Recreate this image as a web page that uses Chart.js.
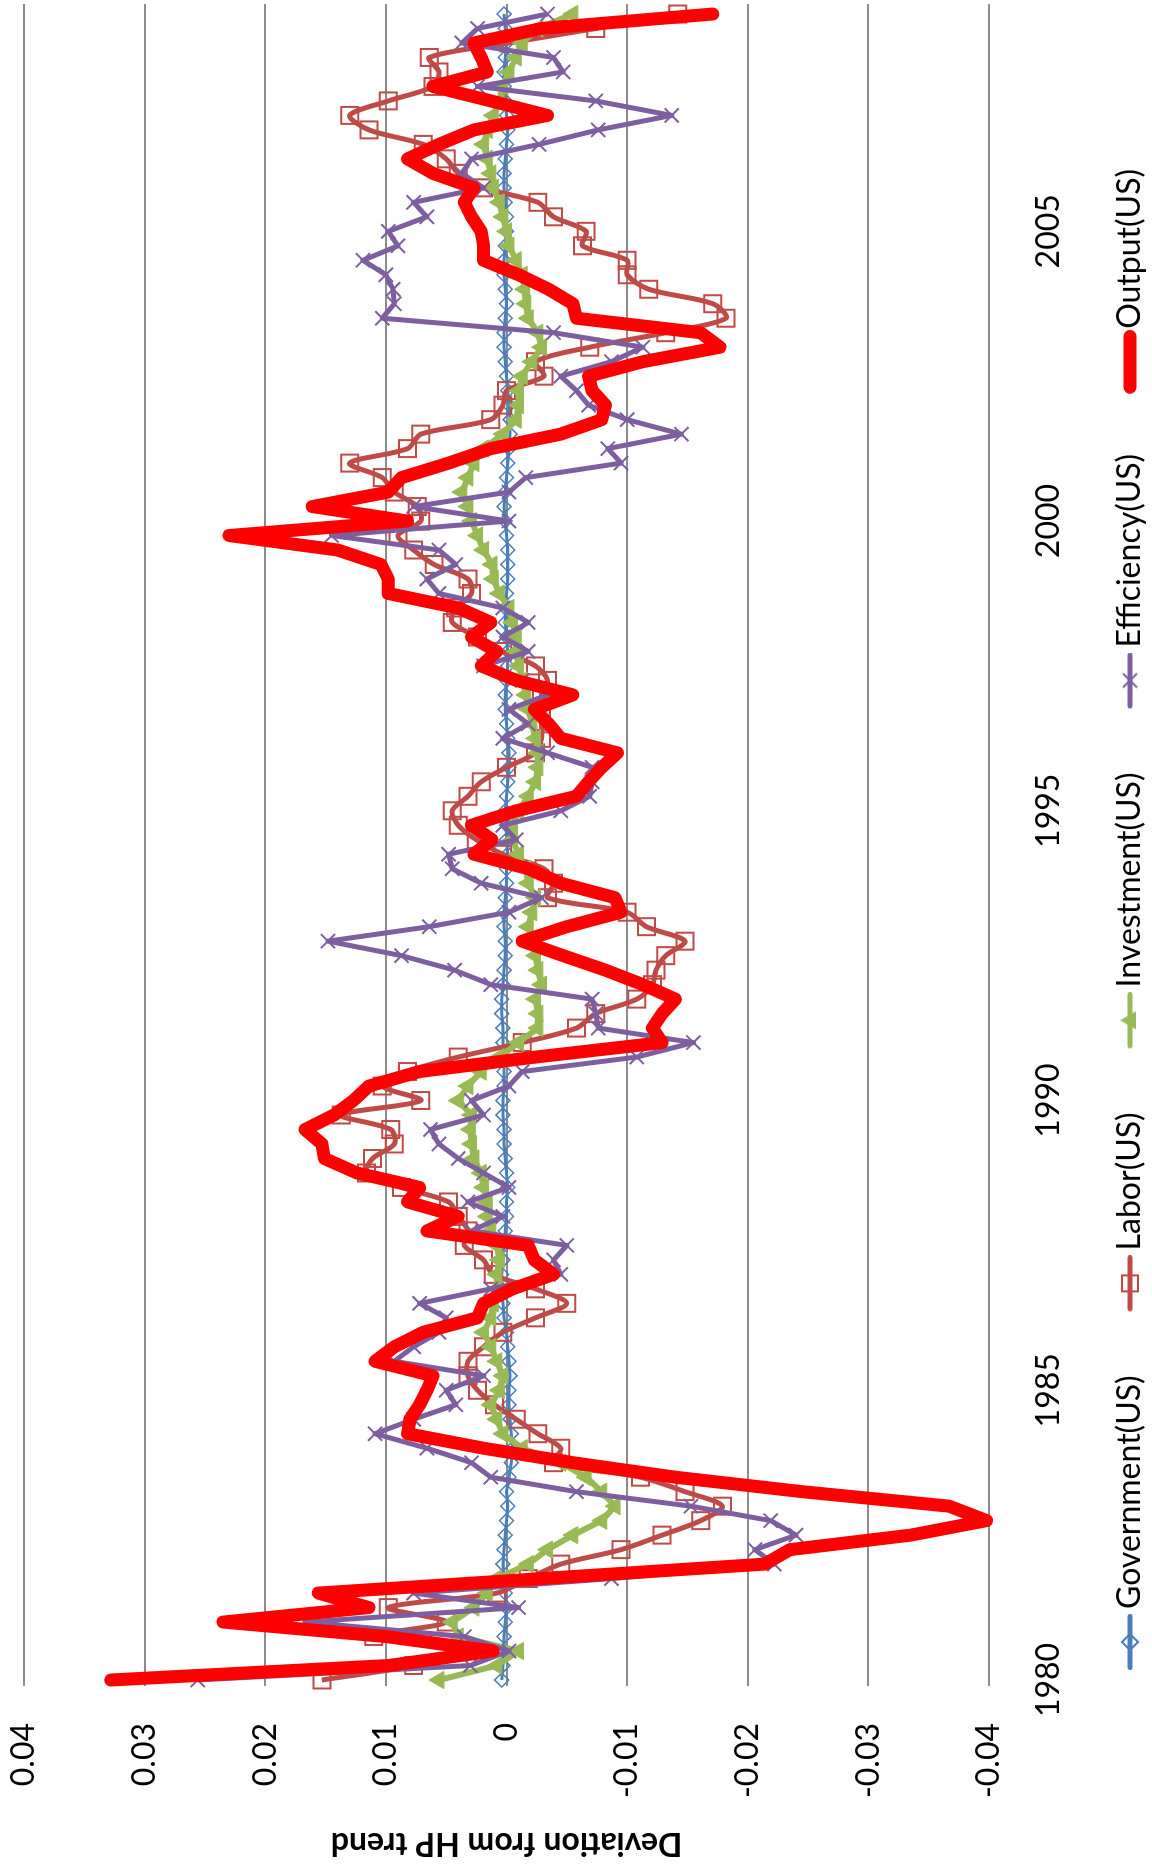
<!DOCTYPE html>
<html>
<head>
<meta charset="utf-8">
<title>Deviation from HP trend</title>
<script src="https://cdn.jsdelivr.net/npm/chart.js@4.4.1/dist/chart.umd.min.js"></script>
<style>
  html, body { margin: 0; padding: 0; width: 1152px; height: 1865px; overflow: hidden; background: #ffffff; }
  /* the chart is laid out landscape and turned a quarter-turn counter-clockwise */
  #frame { position: absolute; left: 0; top: 0; width: 1865px; height: 1152px;
           transform-origin: 0 0; transform: translateY(1865px) rotate(-90deg); background: #ffffff; }
  canvas { display: block; }
</style>
</head>
<body>
<div id="frame"><canvas id="c" width="1865" height="1152"></canvas></div>
<script>
// Quarterly categories 1980Q1 .. 2008Q4
const firstYear = 1980, lastYear = 2008;
const quarters = [];
for (let y = firstYear; y <= lastYear; y++) {
  for (let q = 1; q <= 4; q++) quarters.push(y + 'Q' + q);
}
const yearTicks = ['1980', '1985', '1990', '1995', '2000', '2005'];
const valueTicks = [-0.04, -0.03, -0.02, -0.01, 0, 0.01, 0.02, 0.03, 0.04];

const seriesNames = ['Government(US)', 'Labor(US)', 'Investment(US)', 'Efficiency(US)', 'Output(US)'];

const government = [
  0.0004, 0.0003, 0.0002, 0.0002, 0.0001, 0.0000, 0.0001, 0.0002, 0.0003, 0.0002,
  0.0001, 0.0000, -0.0001, 0.0000, -0.0002, -0.0004, -0.0005, -0.0004, -0.0003, -0.0002,
  -0.0002, -0.0003, -0.0002, -0.0001, 0.0000, 0.0002, 0.0003, 0.0004, 0.0004, 0.0003,
  0.0002, 0.0001, 0.0000, 0.0000, -0.0001, 0.0000, 0.0001, 0.0002, 0.0002, 0.0003,
  0.0003, 0.0002, 0.0002, 0.0002, 0.0003, 0.0003, 0.0004, 0.0004, 0.0003, 0.0002,
  0.0001, 0.0001, 0.0002, 0.0002, 0.0001, 0.0000, 0.0000, -0.0001, 0.0000, 0.0000,
  0.0001, 0.0000, -0.0001, -0.0002, -0.0002, -0.0001, 0.0000, 0.0001, 0.0001, 0.0000,
  -0.0001, -0.0001, 0.0000, 0.0001, 0.0001, 0.0000, -0.0001, -0.0001, -0.0001, 0.0000,
  0.0001, 0.0002, 0.0001, 0.0000, -0.0001, -0.0002, -0.0003, -0.0003, -0.0002, -0.0001,
  0.0000, 0.0001, 0.0002, 0.0002, 0.0001, 0.0000, 0.0001, 0.0002, 0.0002, 0.0001,
  0.0000, 0.0000, 0.0001, 0.0002, 0.0002, 0.0001, 0.0000, -0.0001, 0.0000, 0.0001,
  0.0002, 0.0002, 0.0001, 0.0000, 0.0001, 0.0002
];

const labor = [
  0.0153, 0.0077, 0.0040, 0.0110, 0.0050, 0.0098, 0.0008, -0.0018, -0.0045, -0.0095,
  -0.0129, -0.0161, -0.0179, -0.0148, -0.0111, -0.0039, -0.0045, -0.0026, -0.0008, 0.0010,
  0.0024, 0.0032, 0.0032, 0.0019, 0.0003, -0.0024, -0.0050, -0.0024, 0.0011, 0.0019,
  0.0035, 0.0032, 0.0040, 0.0048, 0.0087, 0.0116, 0.0111, 0.0093, 0.0096, 0.0137,
  0.0071, 0.0103, 0.0082, 0.0040, -0.0013, -0.0058, -0.0074, -0.0108, -0.0121, -0.0124,
  -0.0132, -0.0148, -0.0116, -0.0100, -0.0034, -0.0039, -0.0031, 0.0003, 0.0025, 0.0040,
  0.0045, 0.0032, 0.0021, 0.0000, -0.0024, -0.0029, -0.0029, -0.0029, -0.0029, -0.0034,
  -0.0024, 0.0003, 0.0024, 0.0045, 0.0042, 0.0029, 0.0032, 0.0060, 0.0077, 0.0090,
  0.0071, 0.0074, 0.0093, 0.0103, 0.0130, 0.0082, 0.0071, 0.0013, 0.0003, 0.0000,
  -0.0031, -0.0024, -0.0069, -0.0132, -0.0182, -0.0171, -0.0118, -0.0100, -0.0100, -0.0063,
  -0.0066, -0.0039, -0.0026, 0.0019, 0.0040, 0.0050, 0.0069, 0.0114, 0.0130, 0.0098,
  0.0061, 0.0056, 0.0064, -0.0002, -0.0074, -0.0142
];

const investment = [
  0.0056, 0.0008, -0.0010, 0.0040, 0.0045, 0.0027, 0.0016, 0.0008, -0.0018, -0.0034,
  -0.0055, -0.0079, -0.0090, -0.0079, -0.0066, -0.0045, -0.0013, 0.0003, 0.0008, 0.0013,
  0.0006, 0.0003, 0.0008, 0.0013, 0.0019, 0.0013, 0.0011, 0.0008, 0.0008, 0.0006,
  0.0008, 0.0013, 0.0016, 0.0016, 0.0019, 0.0021, 0.0027, 0.0029, 0.0030, 0.0029,
  0.0040, 0.0032, 0.0021, 0.0006, -0.0010, -0.0026, -0.0026, -0.0024, -0.0029, -0.0026,
  -0.0024, -0.0021, -0.0018, -0.0021, -0.0024, -0.0018, -0.0016, -0.0010, -0.0005, -0.0005,
  -0.0010, -0.0018, -0.0024, -0.0026, -0.0026, -0.0024, -0.0021, -0.0018, -0.0016, -0.0013,
  -0.0010, -0.0008, -0.0008, -0.0005, -0.0002, 0.0006, 0.0011, 0.0012, 0.0019, 0.0024,
  0.0029, 0.0032, 0.0037, 0.0032, 0.0027, 0.0019, 0.0003, -0.0008, -0.0010, -0.0010,
  -0.0013, -0.0021, -0.0029, -0.0026, -0.0018, -0.0016, -0.0015, -0.0013, -0.0008, -0.0002,
  0.0000, 0.0003, 0.0006, 0.0011, 0.0013, 0.0016, 0.0019, 0.0016, 0.0011, 0.0006,
  0.0003, -0.0002, -0.0008, -0.0013, -0.0026, -0.0055
];

const efficiency = [
  0.0256, 0.0030, -0.0002, 0.0035, 0.0167, -0.0010, 0.0077, -0.0087, -0.0222, -0.0206,
  -0.0240, -0.0219, -0.0153, -0.0058, 0.0013, 0.0029, 0.0066, 0.0109, 0.0077, 0.0042,
  0.0050, 0.0019, 0.0093, 0.0077, 0.0056, 0.0050, 0.0072, 0.0013, -0.0045, -0.0039,
  -0.0050, 0.0029, 0.0003, 0.0032, -0.0002, 0.0019, 0.0040, 0.0056, 0.0063, 0.0019,
  0.0029, -0.0002, -0.0013, -0.0108, -0.0155, -0.0076, -0.0074, -0.0071, 0.0013, 0.0043,
  0.0087, 0.0148, 0.0064, -0.0002, -0.0029, 0.0021, 0.0045, 0.0048, -0.0008, 0.0003,
  -0.0045, -0.0069, -0.0071, -0.0071, -0.0034, 0.0003, -0.0018, -0.0002, -0.0034, -0.0013,
  0.0019, -0.0018, 0.0003, -0.0018, 0.0003, 0.0056, 0.0066, 0.0042, 0.0056, 0.0145,
  -0.0002, 0.0077, -0.0002, -0.0016, -0.0095, -0.0084, -0.0145, -0.0100, -0.0068, -0.0058,
  -0.0045, -0.0087, -0.0113, -0.0039, 0.0103, 0.0093, 0.0094, 0.0100, 0.0119, 0.0090,
  0.0098, 0.0066, 0.0077, 0.0019, 0.0037, 0.0029, -0.0027, -0.0076, -0.0137, -0.0074,
  0.0024, -0.0047, -0.0039, 0.0037, 0.0024, -0.0034
];

const output = [
  0.0328, 0.0098, 0.0011, 0.0100, 0.0235, 0.0114, 0.0156, -0.0029, -0.0214, -0.0235,
  -0.0335, -0.0398, -0.0367, -0.0245, -0.0140, -0.0055, 0.0019, 0.0082, 0.0080, 0.0072,
  0.0066, 0.0061, 0.0109, 0.0093, 0.0069, 0.0024, 0.0019, -0.0005, -0.0039, -0.0023,
  -0.0018, 0.0066, 0.0040, 0.0082, 0.0072, 0.0124, 0.0151, 0.0153, 0.0167, 0.0143,
  0.0127, 0.0114, 0.0072, -0.0024, -0.0129, -0.0121, -0.0129, -0.0140, -0.0113, -0.0082,
  -0.0047, -0.0013, -0.0050, -0.0095, -0.0090, -0.0045, -0.0018, 0.0027, 0.0012, 0.0029,
  -0.0008, -0.0058, -0.0068, -0.0079, -0.0092, -0.0045, -0.0035, -0.0023, -0.0055, -0.0008,
  0.0021, 0.0008, 0.0029, 0.0013, 0.0040, 0.0098, 0.0098, 0.0104, 0.0140, 0.0230,
  0.0082, 0.0161, 0.0098, 0.0087, 0.0048, 0.0013, -0.0045, -0.0079, -0.0082, -0.0071,
  -0.0068, -0.0113, -0.0177, -0.0161, -0.0058, -0.0055, -0.0035, -0.0010, 0.0019, 0.0019,
  0.0021, 0.0029, 0.0035, 0.0027, 0.0061, 0.0082, 0.0056, 0.0027, -0.0034, 0.0013,
  0.0061, 0.0016, 0.0021, 0.0027, -0.0029, -0.0171
];

const colors = {
  government: '#4A7EBB',
  labor: '#BE4B48',
  investment: '#98B954',
  efficiency: '#7D5FA0',
  output: '#FF0000',
  grid: '#8c8c8c'
};

// Legend geometry
const LEGEND_FONT = 32;
const LEGEND_PAD = 25;     // legend label padding
const LEGEND_BOX = 84;     // reserved swatch box (pointStyleWidth)
const SWATCH_GAP = 5;      // space between swatch and label text

// Legend swatches: a short line with the series marker in the middle,
// drawn at the right end of a transparent strip so it hugs the label
function makeIcon(color, lineW, marker, len, gap) {
  const w = LEGEND_BOX + LEGEND_FONT - 2 * gap;
  const h = 26;
  const cv = document.createElement('canvas');
  cv.width = w; cv.height = h;
  const g = cv.getContext('2d');
  const cy = h / 2, x1 = w - len, cx = x1 + len / 2;
  g.strokeStyle = color; g.fillStyle = color;
  g.lineWidth = lineW; g.lineCap = 'round';
  g.beginPath(); g.moveTo(x1 + lineW / 2, cy); g.lineTo(w - lineW / 2, cy); g.stroke();
  g.lineWidth = 2; g.lineCap = 'butt';
  if (marker === 'diamond') {
    g.beginPath(); g.moveTo(cx, cy - 8); g.lineTo(cx + 8, cy); g.lineTo(cx, cy + 8); g.lineTo(cx - 8, cy); g.closePath(); g.stroke();
  } else if (marker === 'square') {
    g.strokeRect(cx - 8, cy - 8, 16, 16);
  } else if (marker === 'triangle') {
    g.beginPath(); g.moveTo(cx, cy - 10); g.lineTo(cx + 9, cy + 6); g.lineTo(cx - 9, cy + 6); g.closePath(); g.fill();
  } else if (marker === 'x') {
    g.beginPath(); g.moveTo(cx - 7, cy - 7); g.lineTo(cx + 7, cy + 7); g.moveTo(cx + 7, cy - 7); g.lineTo(cx - 7, cy + 7); g.stroke();
  }
  return cv;
}

const legendIcons = [
  makeIcon(colors.government, 5, 'diamond', 56, SWATCH_GAP),
  makeIcon(colors.labor, 5, 'square', 56, SWATCH_GAP),
  makeIcon(colors.investment, 5, 'triangle', 56, SWATCH_GAP),
  makeIcon(colors.efficiency, 5, 'x', 56, SWATCH_GAP),
  makeIcon(colors.output, 13, null, 64, 1)
];

// Horizontal value gridlines, running a little past the first and last quarter
const valueGrid = {
  id: 'valueGrid',
  beforeDatasetsDraw(chart) {
    const { ctx, chartArea, scales: { y } } = chart;
    ctx.save();
    ctx.strokeStyle = colors.grid;
    ctx.lineWidth = 2;
    y.ticks.forEach(t => {
      const py = Math.round(y.getPixelForValue(t.value));
      ctx.beginPath();
      ctx.moveTo(chartArea.left - 6, py);
      ctx.lineTo(chartArea.right + 10, py);
      ctx.stroke();
    });
    ctx.restore();
  }
};

const baseFont = { family: 'Lato', size: LEGEND_FONT };
const PLOT_LEFT = 185;    // first quarter sits here
const PLOT_BOTTOM = 989;  // the -0.04 gridline
const LEGEND_H = 63;

new Chart(document.getElementById('c'), {
  type: 'line',
  data: {
    labels: quarters,
    datasets: [
      { label: seriesNames[0], data: government, order: 5, clip: false,
        borderColor: colors.government, borderWidth: 3, borderJoinStyle: 'round',
        pointStyle: 'rectRot', pointRadius: 7, pointBorderWidth: 1.5,
        pointBorderColor: colors.government, pointBackgroundColor: 'rgba(255,255,255,0)' },
      { label: seriesNames[1], data: labor, order: 4, clip: false, tension: 0.3,
        borderColor: colors.labor, borderWidth: 5, borderJoinStyle: 'round',
        pointStyle: 'rect', pointRadius: 12, pointBorderWidth: 2,
        pointBorderColor: colors.labor, pointBackgroundColor: 'rgba(255,255,255,0)' },
      { label: seriesNames[2], data: investment, order: 3, clip: false,
        borderColor: colors.investment, borderWidth: 6, borderJoinStyle: 'round',
        pointStyle: 'triangle', pointRadius: 10, pointBorderWidth: 1,
        pointBorderColor: colors.investment, pointBackgroundColor: colors.investment },
      { label: seriesNames[3], data: efficiency, order: 2, clip: false,
        borderColor: colors.efficiency, borderWidth: 5, borderJoinStyle: 'round',
        pointStyle: 'crossRot', pointRadius: 10, pointBorderWidth: 2,
        pointBorderColor: colors.efficiency, pointBackgroundColor: colors.efficiency },
      { label: seriesNames[4], data: output, order: 1, clip: false,
        borderColor: colors.output, borderWidth: 13, borderJoinStyle: 'round', borderCapStyle: 'round',
        pointRadius: 0 }
    ]
  },
  plugins: [valueGrid],
  options: {
    responsive: false,
    animation: false,
    devicePixelRatio: 1,
    events: [],
    layout: { padding: { left: 0, right: 13, top: 24, bottom: 0 } },
    scales: {
      x: {
        type: 'category',
        offset: false,
        grid: { display: false, drawTicks: false },
        border: { display: false },
        ticks: {
          autoSkip: false, maxRotation: 0, minRotation: 0, padding: 40,
          color: '#000', font: baseFont,
          callback: (v, i) => {
            const c = quarters[i];
            return c.endsWith('Q1') && yearTicks.includes(c.slice(0, 4)) ? c.slice(0, 4) : null;
          }
        },
        afterFit: s => { s.height = 1152 - LEGEND_H - PLOT_BOTTOM; s.paddingLeft = 0; s.paddingRight = 0; }
      },
      y: {
        min: valueTicks[0],
        max: valueTicks[valueTicks.length - 1],
        grid: { display: false, drawTicks: false },
        border: { display: false },
        afterBuildTicks: s => { s.ticks = valueTicks.map(v => ({ value: v })); },
        ticks: {
          padding: 43, color: '#000', font: baseFont,
          callback: v => String(Number(Number(v).toFixed(2)))
        },
        title: {
          display: true, text: 'Deviation from HP trend', color: '#000',
          font: { family: 'Lato', size: 32, weight: 'bold' },
          padding: { top: 2.3, bottom: 0 }
        },
        afterFit: s => { s.width = PLOT_LEFT; s.paddingTop = 0; s.paddingBottom = 0; }
      }
    },
    plugins: {
      tooltip: { enabled: false },
      legend: {
        position: 'bottom',
        align: 'center',
        maxHeight: LEGEND_H,
        labels: {
          usePointStyle: true,
          pointStyleWidth: LEGEND_BOX,
          padding: LEGEND_PAD,
          color: '#000',
          font: baseFont,
          sort: (a, b) => a.datasetIndex - b.datasetIndex,
          generateLabels: chart => {
            const items = Chart.defaults.plugins.legend.labels.generateLabels(chart);
            items.forEach(it => { it.pointStyle = legendIcons[it.datasetIndex]; });
            return items;
          }
        }
      }
    }
  }
});
</script>
</body>
</html>
